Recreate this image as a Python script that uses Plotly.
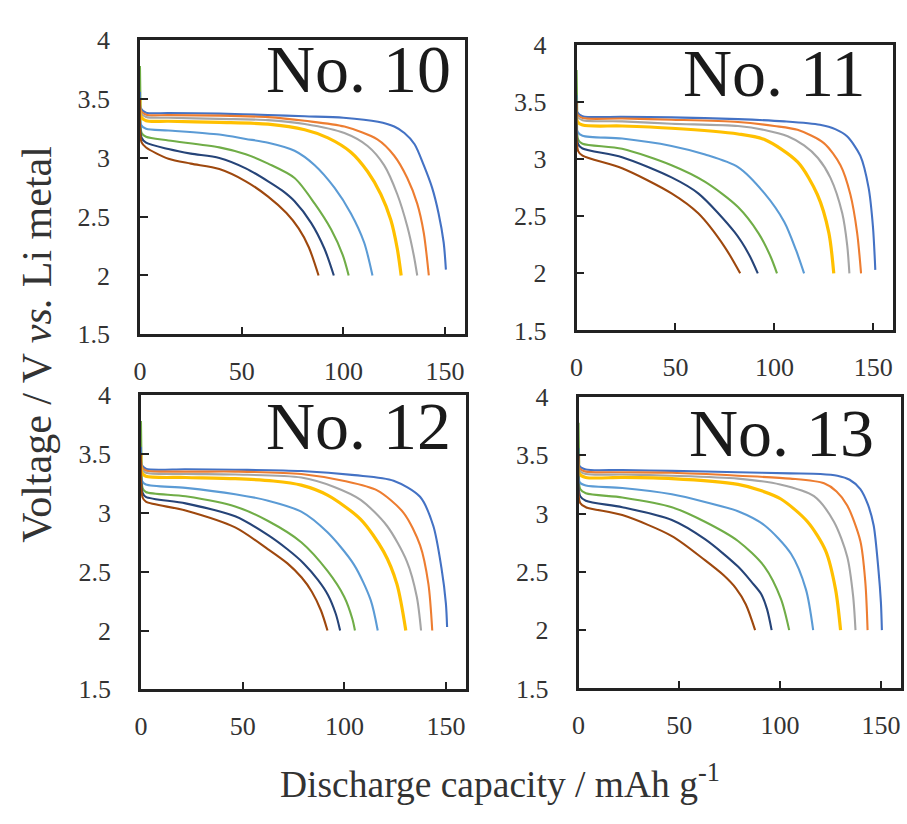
import plotly.graph_objects as go

W, H = 907, 824

SERIES = ["green", "blue", "orange", "gray", "yellow", "lightblue", "darkblue", "brown"]
COLORS = {"blue": "#4472C4", "orange": "#ED7D31", "gray": "#A5A5A5", "yellow": "#FFC000",
          "lightblue": "#5B9BD5", "green": "#70AD47", "darkblue": "#264478", "brown": "#9E480E"}
WIDTHS = {"yellow": 3.2}

PANEL_TITLES = ["No. 10", "No. 11", "No. 12", "No. 13"]
X_TICKS = [0, 50, 100, 150]
Y_TICKS = [1.5, 2, 2.5, 3, 3.5, 4]
Y_TICKTEXT = ["1.5", "2", "2.5", "3", "3.5", "4"]

# ---- No. 10 : (capacity mAh/g, voltage V) ----
n10_blue = [(0,3.56),(0.4,3.42),(3,3.383),(14,3.38),(39,3.375),(63,3.363),(81,3.352),(100,3.34),(117,3.306),(125,3.265),(130,3.21),(135,3.115),(139.5,2.937),(143.6,2.746),(146.8,2.527),(149.3,2.28),(150.4,2.05)]
n10_orange = [(0,3.5),(0.4,3.40),(3,3.366),(14,3.362),(39,3.358),(63,3.345),(81,3.314),(100.5,3.265),(116.7,3.156),(124.9,3.019),(131.4,2.828),(136.3,2.61),(139.5,2.363),(142,2.0)]
n10_gray = [(0,3.5),(0.4,3.38),(3,3.347),(14,3.34),(39,3.33),(63,3.32),(81,3.287),(100.5,3.21),(111.9,3.10),(120,2.937),(126.5,2.69),(131.4,2.418),(134.6,2.172),(136.3,2.0)]
n10_yellow = [(0,3.5),(0.4,3.35),(3,3.314),(14,3.31),(39,3.30),(63,3.285),(81,3.238),(92.4,3.169),(103.7,3.047),(111.9,2.883),(118.4,2.69),(123.3,2.473),(126.5,2.227),(128.4,2.0)]
n10_lightblue = [(0,3.5),(0.5,3.28),(3,3.246),(14,3.232),(39,3.197),(52,3.16),(63,3.128),(76,3.06),(85.9,2.937),(95.6,2.746),(103.7,2.527),(110.2,2.28),(114.3,2.0)]
n10_green = [(0,3.78),(0.3,3.45),(0.8,3.21),(3,3.178),(14,3.147),(39,3.088),(52,3.03),(63,2.95),(76,2.828),(85.9,2.61),(94,2.39),(99.7,2.172),(102.6,2.0)]
n10_darkblue = [(0,3.5),(0.8,3.17),(3,3.128),(14,3.074),(25,3.035),(39,2.998),(52,2.91),(63,2.80),(70,2.72),(76,2.63),(84.2,2.445),(90.7,2.227),(95.3,2.0)]
n10_brown = [(0,3.5),(0.8,3.13),(3,3.087),(14,2.992),(25,2.95),(39,2.904),(52,2.80),(63,2.67),(72,2.53),(78,2.40),(83,2.24),(87.8,2.0)]

# ---- No. 11 ----
n11_blue = [(0,3.56),(0.4,3.41),(3,3.376),(23,3.37),(48,3.365),(81.6,3.35),(105,3.33),(123,3.30),(131,3.26),(136.7,3.2),(143.4,3.03),(147.6,2.75),(149.8,2.41),(151,2.03)]
n11_orange = [(0,3.5),(0.4,3.39),(3,3.359),(23,3.355),(48,3.345),(81.6,3.325),(100,3.29),(111.7,3.256),(125,3.14),(133.4,2.946),(138.4,2.69),(141.8,2.357),(143.8,2.0)]
n11_gray = [(0,3.5),(0.4,3.37),(3,3.34),(23,3.33),(48,3.31),(81.6,3.29),(95,3.255),(106.7,3.20),(115,3.12),(122,3.01),(128.4,2.834),(134.3,2.525),(136.8,2.245),(137.9,2.0)]
n11_yellow = [(0,3.5),(0.4,3.33),(3,3.298),(23,3.29),(48,3.27),(81.6,3.22),(95,3.171),(111.7,2.975),(121.7,2.69),(127.5,2.357),(130,2.0)]
n11_lightblue = [(0,3.5),(0.5,3.24),(3,3.205),(23,3.18),(48,3.115),(65,3.04),(81.6,2.93),(95,2.70),(105,2.45),(111,2.2),(115,2.0)]
n11_green = [(0,3.78),(0.3,3.45),(0.8,3.17),(3,3.135),(23,3.09),(48,2.946),(65,2.80),(81.6,2.58),(92,2.35),(98,2.15),(101.3,2.0)]
n11_darkblue = [(0,3.5),(0.8,3.13),(3,3.093),(23,3.017),(48,2.84),(61.5,2.70),(79.9,2.36),(87,2.17),(91.6,2.0)]
n11_brown = [(0,3.5),(0.8,3.07),(3,3.03),(23,2.92),(48,2.70),(61.5,2.525),(74.9,2.23),(82.7,2.0)]

# ---- No. 12 ----
n12_blue = [(0,3.56),(0.4,3.41),(2.4,3.374),(21.9,3.37),(46.3,3.366),(78.8,3.355),(105,3.32),(124.2,3.273),(137.2,3.136),(143.7,2.89),(147.7,2.534),(149.9,2.23),(150.5,2.03)]
n12_orange = [(0,3.5),(0.4,3.39),(2.4,3.36),(21.9,3.35),(46.3,3.35),(78.8,3.33),(100,3.27),(116.1,3.19),(129.1,3.0),(137.2,2.725),(141.3,2.396),(143.2,2.0)]
n12_gray = [(0,3.5),(0.4,3.37),(2.4,3.34),(21.9,3.33),(46.3,3.325),(78.8,3.30),(95,3.22),(108,3.11),(120.9,2.89),(130.7,2.588),(135.6,2.287),(137.7,2.0)]
n12_yellow = [(0,3.5),(0.4,3.34),(2.4,3.31),(21.9,3.30),(46.3,3.29),(65,3.27),(78.8,3.235),(91.7,3.15),(108,2.944),(119.3,2.67),(125.8,2.396),(130.2,2.0)]
n12_lightblue = [(0,3.5),(0.5,3.27),(2.4,3.24),(21.9,3.212),(46.3,3.158),(62.5,3.103),(78.8,3.01),(91.7,2.834),(104.7,2.56),(112.9,2.26),(116.4,2.0)]
n12_green = [(0,3.78),(0.3,3.45),(0.8,3.21),(2.4,3.177),(21.9,3.14),(46.3,3.054),(62.5,2.93),(78.8,2.75),(91.7,2.506),(99.9,2.287),(103.9,2.1),(105.2,2.0)]
n12_darkblue = [(0,3.5),(0.8,3.17),(2.4,3.136),(21.9,3.08),(46.3,2.97),(62.5,2.81),(72,2.69),(80,2.57),(87,2.43),(92,2.30),(95.8,2.14),(97.9,2.0)]
n12_brown = [(0,3.5),(0.8,3.13),(2.4,3.095),(21.9,3.02),(46.3,2.876),(62.5,2.69),(72,2.57),(79,2.45),(84,2.33),(88.5,2.17),(91.7,2.0)]

# ---- No. 13 ----
n13_blue = [(0,3.56),(0.4,3.41),(3.6,3.378),(21.7,3.374),(46.3,3.366),(79.1,3.355),(105,3.345),(120,3.34),(128.4,3.325),(134.5,3.29),(139.8,3.21),(143.5,3.08),(146.4,2.90),(148.8,2.515),(150,2.24),(150.5,2.0)]
n13_orange = [(0,3.5),(0.4,3.39),(3.6,3.36),(21.7,3.355),(46.3,3.35),(79.1,3.325),(105,3.30),(121.8,3.26),(128,3.19),(133.3,3.07),(139.8,2.765),(142.3,2.406),(143.4,2.0)]
n13_gray = [(0,3.5),(0.4,3.37),(3.6,3.34),(21.7,3.335),(46.3,3.325),(79.1,3.30),(100,3.25),(116.8,3.15),(126.7,2.93),(133.3,2.63),(136.2,2.296),(137.4,2.0)]
n13_yellow = [(0,3.5),(0.4,3.34),(3.6,3.31),(21.7,3.31),(46.3,3.30),(79.1,3.25),(90,3.20),(100.4,3.125),(113.6,2.93),(122.6,2.68),(127.5,2.35),(130,2.0)]
n13_lightblue = [(0,3.5),(0.5,3.27),(3.6,3.24),(21.7,3.22),(46.3,3.166),(62.7,3.10),(79.1,3.02),(92.2,2.90),(105.4,2.655),(112.8,2.35),(116.4,2.0)]
n13_green = [(0,3.78),(0.3,3.45),(0.8,3.21),(3.6,3.174),(21.7,3.138),(46.3,3.055),(62.7,2.93),(79.1,2.765),(92.2,2.545),(100.4,2.268),(104.5,2.0)]
n13_darkblue = [(0,3.5),(0.8,3.15),(3.6,3.11),(21.7,3.055),(46.3,2.945),(62.7,2.78),(79.1,2.545),(86,2.41),(90.6,2.31),(93.5,2.18),(95.8,2.0)]
n13_brown = [(0,3.5),(0.8,3.09),(3.6,3.055),(21.7,2.987),(46.3,2.807),(62.7,2.60),(72,2.47),(78,2.36),(83,2.22),(87.6,2.0)]

PANEL_DATA = [
    {"blue": n10_blue, "orange": n10_orange, "gray": n10_gray, "yellow": n10_yellow,
     "lightblue": n10_lightblue, "green": n10_green, "darkblue": n10_darkblue, "brown": n10_brown},
    {"blue": n11_blue, "orange": n11_orange, "gray": n11_gray, "yellow": n11_yellow,
     "lightblue": n11_lightblue, "green": n11_green, "darkblue": n11_darkblue, "brown": n11_brown},
    {"blue": n12_blue, "orange": n12_orange, "gray": n12_gray, "yellow": n12_yellow,
     "lightblue": n12_lightblue, "green": n12_green, "darkblue": n12_darkblue, "brown": n12_brown},
    {"blue": n13_blue, "orange": n13_orange, "gray": n13_gray, "yellow": n13_yellow,
     "lightblue": n13_lightblue, "green": n13_green, "darkblue": n13_darkblue, "brown": n13_brown},
]

# panel boxes in pixels: left, right, top, bottom
BOXES = [(134, 462, 27, 332), (574, 893, 32, 328), (135, 463, 395, 700), (576, 901, 397, 699)]
TITLE_POS = [(449, 57), (868, 61), (449, 427), (876, 434)]

FONT = '"Liberation Serif", "Times New Roman", Times, serif'
AXC = "#222222"

fig = go.Figure()
layout = dict(width=W, height=H, margin=dict(l=0, r=0, t=0, b=0),
              paper_bgcolor="white", plot_bgcolor="white", showlegend=False,
              font=dict(family=FONT, color="#333333"))

for i, (box, data) in enumerate(zip(BOXES, PANEL_DATA)):
    l, r, t, b = box
    xa = "xaxis" if i == 0 else f"xaxis{i+1}"
    ya = "yaxis" if i == 0 else f"yaxis{i+1}"
    xr = "x" if i == 0 else f"x{i+1}"
    yr = "y" if i == 0 else f"y{i+1}"
    for s in SERIES:
        pts = data[s]
        fig.add_trace(go.Scatter(
            x=[p[0] for p in pts], y=[p[1] for p in pts], mode="lines",
            line=dict(color=COLORS[s], width=WIDTHS.get(s, 2.1), shape="spline", smoothing=0.8),
            xaxis=xr, yaxis=yr, hoverinfo="skip"))
    common = dict(showline=True, linecolor=AXC, linewidth=2.6, mirror=True, showgrid=False,
                  zeroline=False, ticks="inside", ticklen=8, tickwidth=2.2, tickcolor=AXC,
                  tickfont=dict(family=FONT, size=26, color="#333333"))
    layout[xa] = dict(domain=[l / W, r / W], range=[0, 160], tickvals=X_TICKS,
                      anchor=yr, ticklabelstandoff=12, **common)
    layout[ya] = dict(domain=[1 - b / H, 1 - t / H], range=[1.5, 4], tickvals=Y_TICKS,
                      ticktext=Y_TICKTEXT, anchor=xr, ticklabelstandoff=22, **common)

annotations = []
for (tx, ty), title in zip(TITLE_POS, PANEL_TITLES):
    annotations.append(dict(text=title, x=tx / W, y=1 - ty / H, xref="paper", yref="paper",
                            xanchor="right", yanchor="middle", showarrow=False,
                            font=dict(family=FONT, size=68, color="#1a1a1a")))
annotations.append(dict(text="Voltage / V <i>vs.</i> Li metal", x=30 / W, y=1 - 342 / H,
                        xref="paper", yref="paper", textangle=-90, showarrow=False,
                        xanchor="center", yanchor="middle",
                        font=dict(family=FONT, size=42, color="#333333")))
annotations.append(dict(text="Discharge capacity / mAh g<sup>-1</sup>", x=497 / W, y=1 - 796 / H,
                        xref="paper", yref="paper", showarrow=False,
                        xanchor="center", yanchor="middle",
                        font=dict(family=FONT, size=37.5, color="#333333")))
layout["annotations"] = annotations

fig.update_layout(**layout)
fig.write_html("out.html")
